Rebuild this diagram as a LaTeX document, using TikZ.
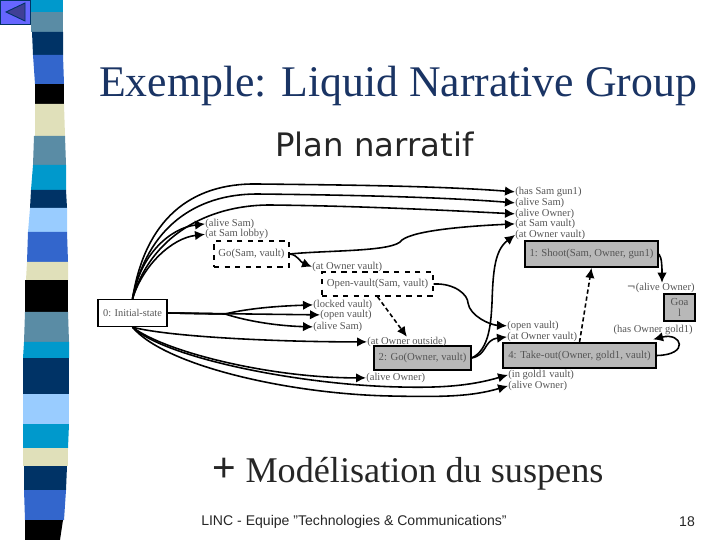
\documentclass[tikz,border=0pt]{standalone}
\usepackage{fontspec}
\setmainfont{Liberation Serif}
\setsansfont{Liberation Sans}
\newfontfamily\verdanafont{DejaVu Sans}
\usetikzlibrary{arrows.meta,positioning}
\definecolor{bandcyan}{RGB}{0,153,204}
\definecolor{bandsteel}{RGB}{90,140,165}
\definecolor{bandnavy}{RGB}{0,51,102}
\definecolor{bandblue}{RGB}{51,102,204}
\definecolor{bandbeige}{RGB}{224,224,186}
\definecolor{bandlight}{RGB}{153,204,255}
\definecolor{titleblue}{RGB}{26,52,100}
\definecolor{labelgray}{RGB}{85,85,85}
\definecolor{boxgray}{RGB}{184,184,184}
\tikzset{
  fact/.style={anchor=west,inner sep=0pt,text=labelgray,yshift=-.5pt,font=\fontsize{6}{6}\selectfont},
  stepbox/.style={draw=black,line width=1.1pt,fill=boxgray,inner sep=0pt,text=labelgray,font=\fontsize{6.1}{7}\selectfont},
  openbox/.style={draw=black,dashed,line width=.8pt,inner sep=0pt,text=labelgray,font=\fontsize{6.1}{7}\selectfont},
  link/.style={line width=.9pt,-{Latex[length=2mm,width=1.9mm]}},
  threat/.style={link,dashed,dash pattern=on 2.4pt off 1.6pt}
}
\begin{document}
\begin{tikzpicture}[x=0.02cm,y=-0.02cm]
\useasboundingbox (0,0) rectangle (720,540);
% Strip on the left: y top, y bottom, x left top, x right top, x left bottom, x right bottom
\foreach \ya/\yb/\la/\ra/\lb/\rb/\col in {
  0/12/31/63/31/63/bandcyan,
  12/32/31/63/31/63/bandsteel,
  32/55/32/63/33/63/bandnavy,
  55/84/33/63/35/64/bandblue,
  84/104/35/64/35/64/black,
  104/136/35/64/35/65/bandbeige,
  136/165/34/65/33/66/bandsteel,
  165/190/33/66/31/66/bandcyan,
  190/208/31/66/30/67/bandnavy,
  208/232/30/67/28/67/bandlight,
  232/262/28/67/27/68/bandblue,
  262/280/27/68/26/68/bandbeige,
  280/312/25/68/25/68/black,
  312/342/25/68/24/69/bandsteel,
  342/358/24/69/23/69/bandcyan,
  358/394/23/69/23/69/bandnavy,
  394/424/23/69/23/69/bandlight,
  424/448/23/69/23/68/bandcyan,
  448/466/23/68/23/68/bandbeige,
  466/490/24/67/24/66/bandnavy,
  490/520/24/66/25/64/bandblue,
  520/540/25/63/25/60/black}
{
  \fill[\col] (\la,\ya) -- (\ra,\ya) -- (\rb,\yb) -- (\lb,\yb) -- cycle;
}
% Back button
\filldraw[fill=blue!60!white,draw=bandnavy,line width=.5pt] (0,0) rectangle (30,24);
\filldraw[fill=blue!45!black!75,draw=bandnavy,line width=.5pt] (6,12) -- (25,3) -- (25,21) -- cycle;

% Texts of the slide
\node[text=titleblue,font=\fontsize{24.9}{25}\selectfont,inner sep=0pt] (title) at (398,85.5) {Exemple: Liquid Narrative Group};
\node[font=\verdanafont\fontsize{18.4}{19}\selectfont,text=black!85,inner sep=0pt] (subtitle) at (374.5,144) {Plan narratif};
\node[font=\fontsize{20.6}{21}\selectfont,text=black!85,inner sep=0pt] (suspens) at (424.5,474) {Modélisation du suspens};
\node[font=\sffamily\fontsize{23}{23}\selectfont,text=black!85,inner sep=0pt] (plus) at (224,470) {+};
\node[font=\sffamily\fontsize{8}{8}\selectfont,text=black!85,inner sep=0pt] (footer) at (354,522) {LINC - Equipe \char34 Technologies \& Communications\char34};
\node[font=\sffamily\fontsize{8}{8}\selectfont,text=black!85,inner sep=0pt] (pagenum) at (687,522) {18};

% Steps of the plan
\node[draw=black,line width=.8pt,inner sep=0pt,text=labelgray,font=\fontsize{5.9}{7}\selectfont,minimum width=1.38cm,minimum height=.54cm] (init) at (132.5,313) {0: Initial-state};
\node[openbox,minimum width=1.5cm,minimum height=.52cm] (gosam) at (251.5,254) {Go(Sam, vault)};
\node[openbox,minimum width=2.22cm,minimum height=.48cm] (openvault) at (377.5,284) {Open-vault(Sam, vault)};
\node[stepbox,minimum width=2.66cm,minimum height=.52cm] (shoot) at (591.5,254) {1: Shoot(Sam, Owner, gun1)};
\node[stepbox,line width=.6pt,align=center,minimum width=.62cm,minimum height=.54cm] (goal) at (679.5,307.5) {Goa\\[-1pt]l};
\node[stepbox,line width=.6pt,minimum width=1.94cm,minimum height=.48cm] (goowner) at (422.5,358) {2: Go(Owner, vault)};
\node[stepbox,line width=.8pt,minimum width=3.06cm,minimum height=.5cm] (takeout) at (579.5,355.5) {4: Take-out(Owner, gold1, vault)};

% Facts, left side
\node[fact] (alivesam) at (205,223) {(alive Sam)};
\node[fact] (samlobby) at (205,233.5) {(at Sam lobby)};
\node[fact] (ownervaulta) at (312,266) {(at Owner vault)};
\node[fact] (locked) at (313,304) {(locked vault)};
\node[fact] (openv) at (320,314) {(open vault)};
\node[fact] (alivesamb) at (313,326) {(alive Sam)};
\node[fact] (outside) at (367,341) {(at Owner outside)};
\node[fact] (aliveownera) at (366,377) {(alive Owner)};

% Facts, right side
\node[fact] (hasgun) at (515,191) {(has Sam gun1)};
\node[fact] (alivesamc) at (515,202) {(alive Sam)};
\node[fact] (aliveownerb) at (515,213) {(alive Owner)};
\node[fact] (samvault) at (515,223) {(at Sam vault)};
\node[fact] (ownervaultb) at (515,234) {(at Owner vault)};
\node[fact] (openvb) at (507,325) {(open vault)};
\node[fact] (ownervaultc) at (507,336) {(at Owner vault)};
\node[fact] (ingold) at (508,374) {(in gold1 vault)};
\node[fact] (aliveownerc) at (508,385) {(alive Owner)};
\node[fact,anchor=east,font=\verdanafont\fontsize{6}{6}\selectfont] (notalive) at (695,287) {¬\rmfamily(alive Owner)};
\node[fact,anchor=east] (hasgold) at (693,329) {(has Owner gold1)};

% Links out of the initial state, going up
\draw[link] (init.north) .. controls (145,220) and (190,183) .. (257,184) .. controls (350,185) and (440,186) .. (hasgun.west);
\draw[link] (init.north) .. controls (147,228) and (195,194) .. (257,194) .. controls (350,195) and (440,197) .. (alivesamc.west);
\draw[link] (init.north) .. controls (150,238) and (205,205) .. (270,205) .. controls (360,206) and (440,210) .. (aliveownerb.west);
\draw[link] (init.north) .. controls (140,255) and (170,228) .. (alivesam.west);
\draw[link] (init.north) .. controls (143,265) and (172,238) .. (samlobby.west);

% Links out of the initial state, to the right
\draw[link] (init.east) -- (225,314) .. controls (250,308) and (280,306) .. (locked.west);
\draw[link] (init.east) -- (openv.west);
\draw[link] (init.east) -- (225,314) .. controls (250,322) and (280,326) .. (alivesamb.west);

% Links out of the initial state, going down
\draw[link] (init.south) .. controls (170,337) and (280,342) .. (outside.west);
\draw[link] (init.south) .. controls (165,352) and (270,378) .. (aliveownera.west);
\draw[link] (init.south) .. controls (165,358) and (300,385) .. (400,387) .. controls (440,388) and (470,386) .. (ingold.west);
\draw[link] (init.south) .. controls (165,366) and (290,394) .. (390,396) .. controls (440,397) and (470,397) .. (aliveownerc.west);

% Links between the steps
\draw[link] (gosam.east) .. controls (330,250) and (395,252) .. (402,240) .. controls (415,230) and (470,226) .. (samvault.west);
\draw[link] (gosam.east) .. controls (298,255) and (300,262) .. (ownervaulta.west);
\draw[link] (openvault.east) .. controls (455,283) and (468,295) .. (468,303) .. controls (470,316) and (490,325) .. (openvb.west);
\draw[threat] (openvault.south) -- (outside.north);
\draw[link] (goowner.east) .. controls (490,350) and (491,320) .. (492,303) .. controls (493,270) and (495,250) .. (ownervaultb.west);
\draw[link] (goowner.east) .. controls (488,355) and (483,340) .. (ownervaultc.west);
\draw[threat] (takeout.north) -- (shoot.south);
\draw[link] (shoot.east) .. controls (662,258) and (662,268) .. (notalive.north -| 662,0);
\draw[link] (takeout.east) .. controls (690,355) and (682,332) .. ([yshift=-2.5pt]hasgold.south);
\end{tikzpicture}
\end{document}
